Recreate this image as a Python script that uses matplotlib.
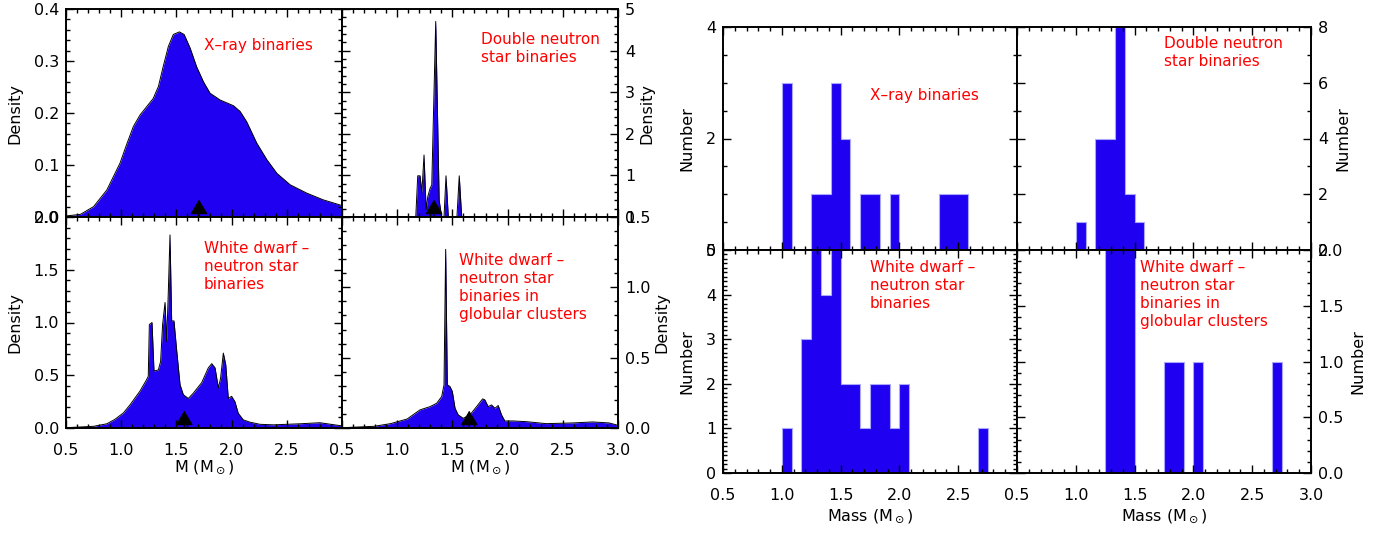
import numpy as np
import matplotlib
matplotlib.use('Agg')
import matplotlib.pyplot as plt
from matplotlib.ticker import MultipleLocator, FormatStrFormatter

plt.rcParams['font.family'] = ['DejaVu Sans']

# ---- kernel density curves (mass in Msun, density) ----
xrb_m = [0.5, 0.63, 0.75, 0.87, 0.99, 1.05, 1.11, 1.17, 1.23, 1.29, 1.337, 1.38,
         1.427, 1.472, 1.527, 1.57, 1.624, 1.683, 1.745, 1.805, 1.896, 2.017,
         2.077, 2.137, 2.228, 2.32, 2.41, 2.53, 2.68, 2.83, 3.0]
xrb_d = [0.002, 0.005, 0.02, 0.052, 0.104, 0.14, 0.174, 0.196, 0.212, 0.228,
         0.251, 0.289, 0.328, 0.351, 0.356, 0.351, 0.325, 0.289, 0.26, 0.238,
         0.225, 0.214, 0.203, 0.183, 0.142, 0.11, 0.084, 0.062, 0.046, 0.033,
         0.022]

dns_m = [0.5, 1.168, 1.186, 1.207, 1.223, 1.243, 1.262, 1.277, 1.298, 1.313,
         1.349, 1.38, 1.403, 1.424, 1.442, 1.463, 1.541, 1.562, 1.584, 3.0]
dns_d = [0, 0, 0.99, 0.99, 0.575, 1.49, 0.175, 0.49, 0.69, 0.77, 4.7, 0.4, 0,
         0, 0.99, 0, 0, 0.99, 0, 0]

wdns_m = [0.5, 0.75, 0.87, 0.94, 1.02, 1.08, 1.17, 1.231, 1.245, 1.255, 1.279,
          1.297, 1.336, 1.357, 1.375, 1.397, 1.412, 1.427, 1.442, 1.457, 1.478,
          1.503, 1.533, 1.563, 1.608, 1.653, 1.729, 1.789, 1.82, 1.85, 1.88,
          1.90, 1.925, 1.947, 1.97, 2.0, 2.03, 2.06, 2.106, 2.167, 2.257, 2.38,
          2.62, 2.8, 3.0]
wdns_d = [0.003, 0.016, 0.04, 0.08, 0.143, 0.22, 0.35, 0.46, 0.49, 0.98, 1.0,
          0.54, 0.55, 0.63, 0.98, 1.19, 0.82, 1.30, 1.83, 1.015, 1.015, 0.73,
          0.41, 0.315, 0.28, 0.33, 0.43, 0.57, 0.61, 0.57, 0.38, 0.47, 0.71,
          0.60, 0.28, 0.30, 0.25, 0.14, 0.077, 0.055, 0.035, 0.03, 0.04, 0.05,
          0.02]

gc_m = [0.5, 0.79, 0.94, 1.09, 1.207, 1.298, 1.358, 1.403, 1.424, 1.439, 1.454,
        1.478, 1.499, 1.524, 1.553, 1.598, 1.659, 1.719, 1.774, 1.794, 1.824,
        1.855, 1.885, 1.915, 1.945, 1.975, 2.05, 2.17, 2.35, 2.59, 2.77, 2.92,
        3.0]
gc_d = [0.002, 0.012, 0.031, 0.064, 0.129, 0.152, 0.176, 0.224, 0.307, 1.27,
        0.307, 0.295, 0.26, 0.14, 0.093, 0.069, 0.093, 0.152, 0.207, 0.2, 0.152,
        0.164, 0.14, 0.16, 0.093, 0.05, 0.05, 0.045, 0.031, 0.036, 0.043, 0.036,
        0.019]

# mean masses (arrows)
mean_xrb, mean_dns, mean_wdns, mean_gc = 1.705, 1.334, 1.572, 1.653

# ---- histograms: bins of width 1/12 Msun starting at 1.0 ----
bin_edges = 1.0 + np.arange(22) / 12.0
xrb_n  = [3, 0, 0, 1, 1, 3, 2, 0, 1, 1, 0, 1, 0, 0, 0, 0, 1, 1, 1, 0, 0]
dns_n  = [1, 0, 4, 4, 8, 2, 1, 0, 0, 0, 0, 0, 0, 0, 0, 0, 0, 0, 0, 0, 0]
wdns_n = [1, 0, 3, 5, 4, 6, 2, 2, 1, 2, 2, 1, 2, 0, 0, 0, 0, 0, 0, 0, 1]
gc_n   = [0, 0, 0, 3, 4, 3, 0, 0, 0, 1, 1, 0, 1, 0, 0, 0, 0, 0, 0, 0, 1]

lab_xrb = 'X\u2013ray binaries'
lab_dns = 'Double neutron\nstar binaries'
lab_wdns = 'White dwarf \u2013\nneutron star\nbinaries'
lab_gc = 'White dwarf \u2013\nneutron star\nbinaries in\nglobular clusters'

BLUE = '#2000f0'
W, H = 1373, 534
fig = plt.figure(figsize=(W / 100, H / 100), dpi=100)


def add_ax(x0, x1, y0, y1):
    return fig.add_axes([x0 / W, 1 - y1 / H, (x1 - x0) / W, (y1 - y0) / H])


def style(ax, ylim, ymaj, ymin, yfmt, right=False, xlab=None, last_x=True,
          ylab='Density', xlpad=0, ylpad=8):
    ax.set_xlim(0.5, 3.0)
    ax.set_ylim(*ylim)
    ax.xaxis.set_minor_locator(MultipleLocator(0.1))
    ax.yaxis.set_major_locator(MultipleLocator(ymaj))
    ax.yaxis.set_minor_locator(MultipleLocator(ymin))
    ax.yaxis.set_major_formatter(FormatStrFormatter(yfmt))
    ticks = [0.5, 1.0, 1.5, 2.0, 2.5, 3.0]
    ax.set_xticks(ticks)
    if xlab is None:
        ax.set_xticklabels([''] * 6)
    else:
        labs = ['%.1f' % t for t in ticks]
        if not last_x:
            labs[-1] = ''
        ax.set_xticklabels(labs)
        ax.set_xlabel(xlab, fontsize=11.5, labelpad=xlpad)
    ax.tick_params(which='both', direction='in', top=True, right=True,
                   width=1.0, labelsize=11.5, pad=11)
    ax.tick_params(which='major', length=5.5)
    ax.tick_params(which='minor', length=2.8)
    ax.tick_params(axis='y', pad=5)
    if right:
        ax.tick_params(axis='y', labelleft=False, labelright=True)
        ax.yaxis.set_label_position('right')
    ax.set_ylabel(ylab, fontsize=11.5, labelpad=ylpad)
    for s in ax.spines.values():
        s.set_linewidth(1.4)


def density(ax, m, d, mean):
    ax.fill_between(m, 0, d, color=BLUE, lw=0)
    ax.plot(m, d, color='black', lw=0.7)
    ax.annotate('', xy=(mean, 12.5), xycoords=('data', 'axes points'),
                xytext=(mean, 0), textcoords=('data', 'axes points'),
                arrowprops=dict(arrowstyle='-|>,head_length=0.45,head_width=0.27',
                                color='black', lw=1.0, mutation_scale=20,
                                shrinkA=0, shrinkB=0))


def hist(ax, n):
    ax.stairs(n, bin_edges, fill=True, facecolor=BLUE, edgecolor='#a8a8ff',
              lw=0.8, baseline=0)


def note(ax, x, y, s):
    ax.text(x, y, s, transform=ax.transAxes, color='red', fontsize=11,
            ha='left', va='top', linespacing=1.25)


M_LAB = r'M (M$_\odot$)'
MASS_LAB = r'Mass (M$_\odot$)'

# ---------------- left block: densities ----------------
a1 = add_ax(66, 342, 9, 217)
density(a1, xrb_m, xrb_d, mean_xrb)
style(a1, (0, 0.4), 0.1, 0.02, '%.1f')
note(a1, 0.50, 0.86, lab_xrb)

a2 = add_ax(342, 618, 9, 217)
density(a2, dns_m, dns_d, mean_dns)
style(a2, (0, 5), 1, 0.2, '%d', right=True, ylpad=3)
note(a2, 0.505, 0.89, lab_dns)

a3 = add_ax(66, 342, 217, 428)
density(a3, wdns_m, wdns_d, mean_wdns)
style(a3, (0, 2.0), 0.5, 0.1, '%.1f', xlab=M_LAB, last_x=False)
note(a3, 0.50, 0.885, lab_wdns)

a4 = add_ax(342, 618, 217, 428)
density(a4, gc_m, gc_d, mean_gc)
style(a4, (0, 1.5), 0.5, 0.1, '%.1f', right=True, xlab=M_LAB, ylpad=3)
note(a4, 0.425, 0.83, lab_gc)

# ---------------- right block: histograms ----------------
b1 = add_ax(723, 1017, 27, 250)
hist(b1, xrb_n)
style(b1, (0, 4), 2, 0.5, '%d', ylab='Number')
note(b1, 0.50, 0.725, lab_xrb)

b2 = add_ax(1017, 1311, 27, 250)
hist(b2, dns_n)
style(b2, (0, 8), 2, 1, '%d', right=True, ylab='Number', ylpad=5)
note(b2, 0.50, 0.96, lab_dns)

b3 = add_ax(723, 1017, 250, 473)
hist(b3, wdns_n)
style(b3, (0, 5), 1, 0.1, '%d', xlab=MASS_LAB, last_x=False, ylab='Number',
      xlpad=3)
note(b3, 0.50, 0.955, lab_wdns)

b4 = add_ax(1017, 1311, 250, 473)
hist(b4, gc_n)
style(b4, (0, 2.0), 0.5, 0.1, '%.1f', right=True, xlab=MASS_LAB,
      ylab='Number', xlpad=3, ylpad=5)
note(b4, 0.42, 0.955, lab_gc)

fig.savefig('out.png', dpi=100)
